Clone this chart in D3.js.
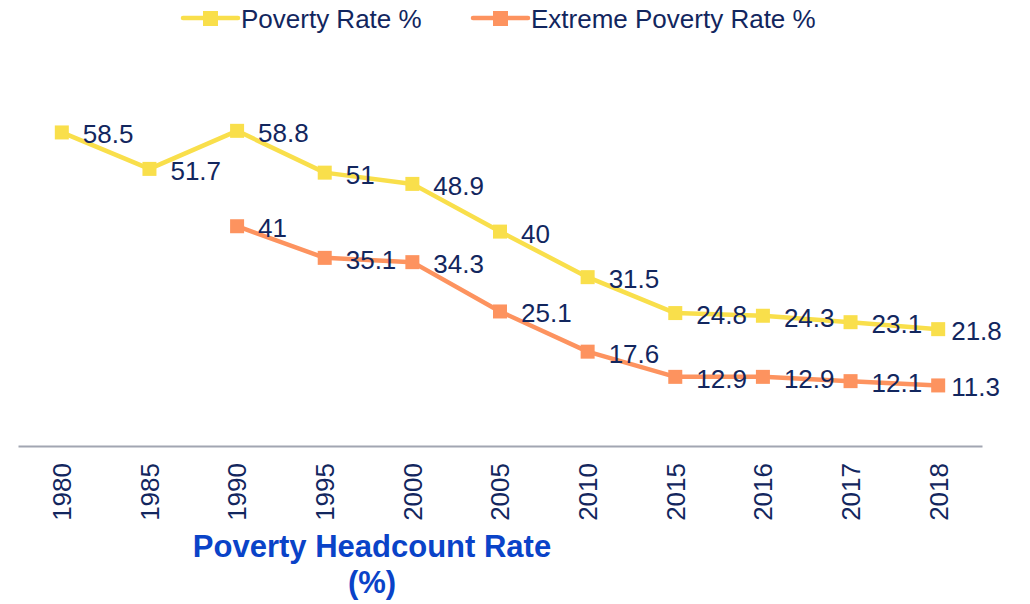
<!DOCTYPE html>
<html>
<head>
<meta charset="utf-8">
<script src="https://cdn.jsdelivr.net/npm/d3@7"></script>
<style>
  html, body { margin: 0; padding: 0; background: #ffffff; }
  svg { display: block; font-family: "Liberation Sans", Arial, sans-serif; }
</style>
</head>
<body>
<svg id="chart" width="1030" height="604"></svg>
<script>
// Poverty headcount series by year
const years = ["1980", "1985", "1990", "1995", "2000", "2005", "2010", "2015", "2016", "2017", "2018"];
const povertyRate = [58.5, 51.7, 58.8, 51, 48.9, 40, 31.5, 24.8, 24.3, 23.1, 21.8];
const extremePovertyRate = [null, null, 41, 35.1, 34.3, 25.1, 17.6, 12.9, 12.9, 12.1, 11.3];
const seriesNames = ["Poverty Rate %", "Extreme Poverty Rate %"];
const titleLines = ["Poverty Headcount Rate", "(%)"];

const colors = ["#f9df4b", "#fd935f"];
const labelColor = "#12265e";
const titleColor = "#0a43c8";

const svg = d3.select("#chart");
const width = 1030, height = 604;
const margin = { left: 18, right: 48, top: 0, bottom: 158 };

const x = d3.scaleBand()
  .domain(years)
  .range([margin.left, width - margin.right])
  .paddingInner(0)
  .paddingOuter(0);

const y = d3.scaleLinear()
  .domain([0, 83])
  .range([height - margin.bottom, height - margin.bottom - 83 * 5.36]);

const cx = d => x(d) + x.bandwidth() / 2;

// Category axis
const xAxis = d3.axisBottom(x).tickSize(0).tickPadding(0);
const gx = svg.append("g")
  .attr("transform", `translate(0,${y(0)})`)
  .call(xAxis);
gx.select(".domain").attr("stroke", "#a2a6b2").attr("stroke-width", 2);
gx.selectAll(".tick text")
  .attr("transform", "rotate(-90)")
  .attr("x", -17)
  .attr("y", 0)
  .attr("dy", "0.36em")
  .attr("text-anchor", "end")
  .attr("font-size", 26)
  .attr("font-family", "Liberation Sans, Arial, sans-serif")
  .attr("fill", labelColor);

const allSeries = [povertyRate, extremePovertyRate];

const line = d3.line()
  .defined(d => d.v != null)
  .x(d => cx(d.year))
  .y(d => y(d.v));

allSeries.forEach((vals, i) => {
  const pts = years.map((yr, j) => ({ year: yr, v: vals[j], last: j === years.length - 1 }));
  const g = svg.append("g");
  g.append("path")
    .datum(pts)
    .attr("fill", "none")
    .attr("stroke", colors[i])
    .attr("stroke-width", 4.5)
    .attr("stroke-linejoin", "round")
    .attr("d", line);
  const valid = pts.filter(d => d.v != null);
  g.selectAll("rect")
    .data(valid)
    .join("rect")
    .attr("x", d => cx(d.year) - 7)
    .attr("y", d => y(d.v) - 7)
    .attr("width", 14)
    .attr("height", 14)
    .attr("fill", colors[i]);
  g.selectAll("text")
    .data(valid)
    .join("text")
    .attr("x", d => cx(d.year) + (d.last ? 13 : 21))
    .attr("y", d => y(d.v) + 11)
    .attr("font-size", 26)
    .attr("fill", labelColor)
    .text(d => d.v);
});

// Legend
const legendItems = [
  { name: seriesNames[0], color: colors[0], x: 183 },
  { name: seriesNames[1], color: colors[1], x: 473 }
];
const lg = svg.append("g");
legendItems.forEach(it => {
  lg.append("line")
    .attr("x1", it.x).attr("x2", it.x + 55)
    .attr("y1", 18).attr("y2", 18)
    .attr("stroke", it.color).attr("stroke-width", 4.5)
    .attr("stroke-linecap", "round");
  lg.append("rect")
    .attr("x", it.x + 20).attr("y", 11)
    .attr("width", 15).attr("height", 15)
    .attr("fill", it.color);
  lg.append("text")
    .attr("x", it.x + 58).attr("y", 28)
    .attr("font-size", 26)
    .attr("fill", labelColor)
    .text(it.name);
});

// Axis title
const tt = svg.append("text")
  .attr("x", 372)
  .attr("text-anchor", "middle")
  .attr("font-size", 31)
  .attr("font-weight", "bold")
  .attr("fill", titleColor);
tt.selectAll("tspan")
  .data(titleLines)
  .join("tspan")
  .attr("x", 372)
  .attr("y", (d, i) => 557 + i * 36)
  .text(d => d);
</script>
</body>
</html>
